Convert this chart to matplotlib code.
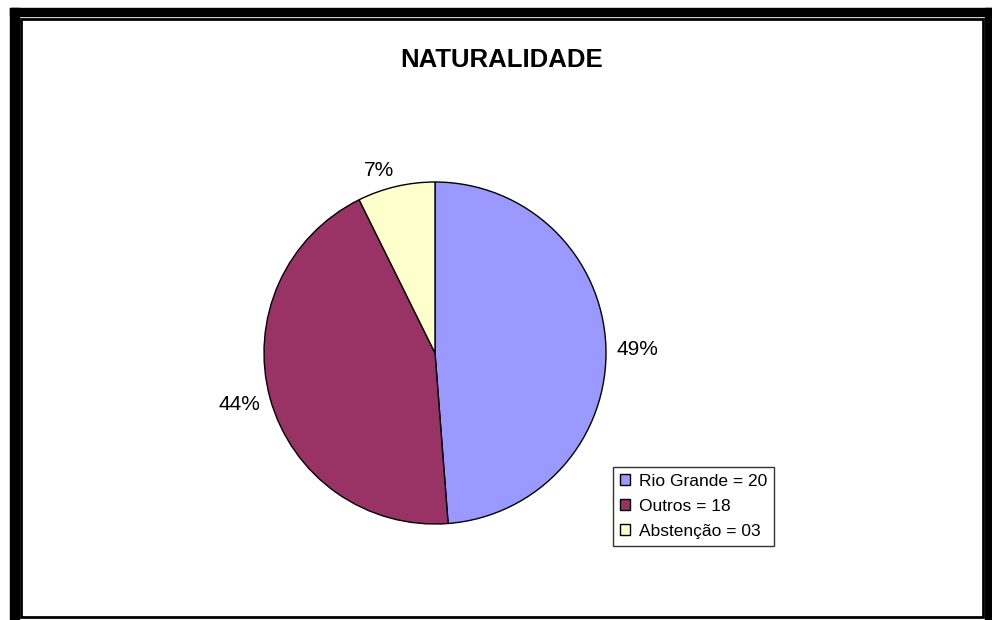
import numpy as np
import matplotlib.pyplot as plt
from matplotlib.patches import Rectangle

plt.rcParams['font.family'] = ['Liberation Sans', 'DejaVu Sans']

labels = ["Rio Grande = 20", "Outros = 18", "Abstenção = 03"]
values = [20, 18, 3]
colors = ["#9999FF", "#993366", "#FFFFCC"]
title = "NATURALIDADE"

W, H = 992, 620
fig = plt.figure(figsize=(W / 100, H / 100), dpi=100)

# double frame round the chart area
fig.patches.append(Rectangle((10 / W, 0), 9 / W, 1 - 8 / H, transform=fig.transFigure,
                             color="black", zorder=0))
fig.patches.append(Rectangle((10 / W, 1 - 16 / H), 1 - 10 / W, 8 / H, transform=fig.transFigure,
                             color="black", zorder=0))
fig.patches.append(Rectangle((985 / W, 0), 7 / W, 1 - 8 / H, transform=fig.transFigure,
                             color="black", zorder=0))
fig.patches.append(Rectangle((21 / W, 3 / H), 962 / W, 1 - 22 / H, transform=fig.transFigure,
                             fill=False, edgecolor="black", linewidth=2, zorder=1))

fig.text(502 / W, 1 - 60 / H, title, ha="center", va="center",
         fontsize=18.5, fontweight="bold")

cx, cy, r = 435, 353, 171
ax = fig.add_axes([(cx - r) / W, 1 - (cy + r) / H, 2 * r / W, 2 * r / H])
wedges, _ = ax.pie(values, colors=colors, startangle=90, counterclock=False,
                   wedgeprops=dict(edgecolor="black", linewidth=1))

# percentage labels just outside each slice, aligned like Excel
total = sum(values)
for w, v in zip(wedges, values):
    mid = np.deg2rad((w.theta1 + w.theta2) / 2)
    c, s = np.cos(mid), np.sin(mid)
    ha = "left" if c > 0.1 else ("right" if c < -0.1 else "center")
    va = "bottom" if s > 0.7 else ("top" if s < -0.7 else "center")
    ax.text(1.06 * c, 1.06 * s - 0.02, f"{round(v / total * 100)}%", ha=ha, va=va,
            fontsize=15)

ax.set_xlim(-1, 1)
ax.set_ylim(-1, 1)
ax.set_aspect("equal")
ax.axis("off")

leg = fig.legend(wedges, labels, loc="upper left",
                 bbox_to_anchor=(613 / W, 1 - 467 / H), borderaxespad=0,
                 fontsize=12.5, frameon=True, fancybox=False, shadow=False,
                 handlelength=0.6, handleheight=0.6, handletextpad=0.5,
                 labelspacing=0.57, borderpad=0.4)
leg.get_frame().set_edgecolor("black")
leg.get_frame().set_linewidth(1)

fig.savefig("out.png", dpi=100)
